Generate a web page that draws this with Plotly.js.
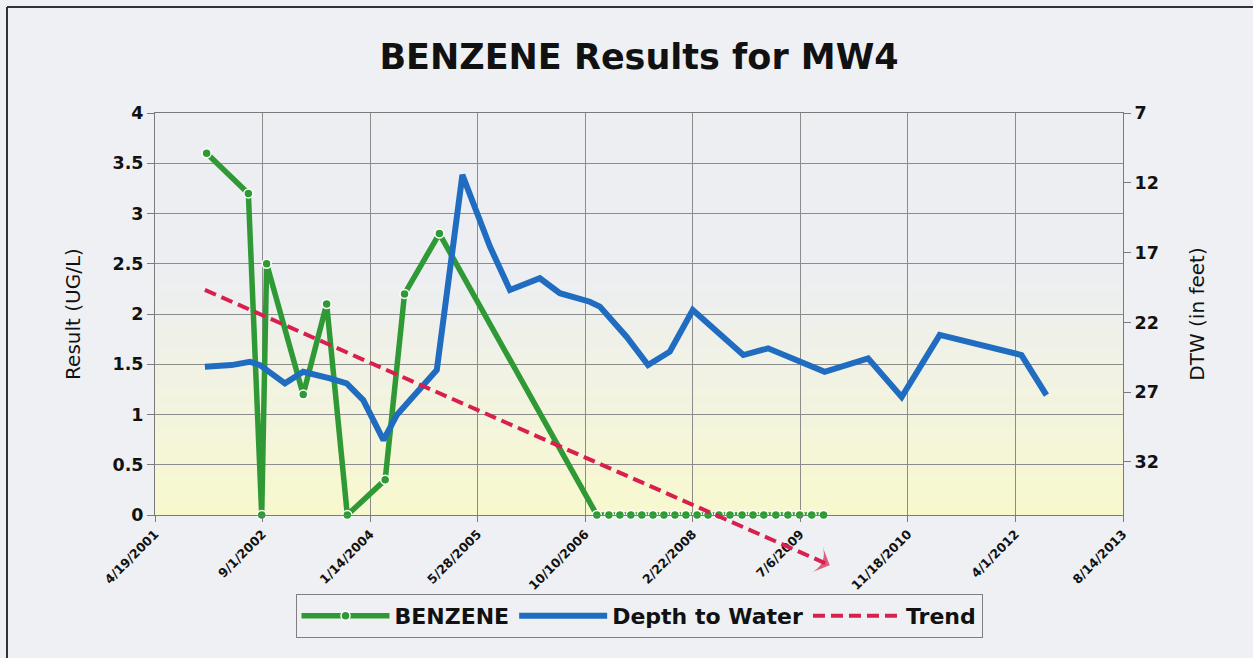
<!DOCTYPE html>
<html>
<head>
<meta charset="utf-8">
<script src="https://cdn.plot.ly/plotly-3.0.1.min.js"></script>
<style>
html,body{margin:0;padding:0;background:#eef0f3;}
#chart{width:1253px;height:658px;}
</style>
</head>
<body>
<div id="chart"></div>
<script>
// ---------------- DATA ----------------
const BENZENE_DATES = [
  '2001-12-15','2002-06-27','2002-08-28','2002-09-20','2003-03-09','2003-06-26',
  '2003-09-30','2004-03-24','2004-06-22','2004-12-01',
  '2006-12-03','2007-01-28','2007-03-20','2007-05-10','2007-06-30','2007-08-21',
  '2007-10-11','2007-12-01','2008-01-21','2008-03-13','2008-05-03','2008-06-23',
  '2008-08-13','2008-10-08','2008-11-28','2009-01-17','2009-03-14','2009-05-09',
  '2009-07-03','2009-08-28','2009-10-22'
];
const BENZENE_VALUES = [
  3.6, 3.2, 0, 2.5, 1.2, 2.1,
  0, 0.35, 2.2, 2.8,
  0, 0, 0, 0, 0, 0,
  0, 0, 0, 0, 0, 0,
  0, 0, 0, 0, 0, 0,
  0, 0, 0
];
const DTW_DATES = [
  '2001-12-07','2002-04-10','2002-07-04','2002-08-20','2002-12-14','2003-03-09',
  '2003-07-11','2003-09-27','2003-12-13','2004-03-16','2004-05-17','2004-08-18',
  '2004-11-19','2005-03-18','2005-07-24','2005-10-25','2006-03-13','2006-06-14',
  '2006-10-31','2006-12-17','2007-04-20','2007-07-29','2007-11-07','2008-02-22',
  '2008-10-14','2009-02-06','2009-06-18','2009-10-27','2010-05-17','2010-10-20',
  '2011-04-15','2012-04-29','2012-08-23'
];
const DTW_VALUES = [
  25.18, 25.06, 24.82, 25.06, 26.37, 25.54,
  26.01, 26.37, 27.57, 30.44, 28.64, 27.09,
  25.41, 11.43, 16.57, 19.68, 18.84, 19.91,
  20.52, 20.87, 23.03, 25.06, 24.10, 21.11,
  24.34, 23.86, 24.70, 25.54, 24.58, 27.35,
  22.90, 24.34, 27.21
];
const TREND_DATES = ['2001-12-07', '2009-11-20'];
const TREND_VALUES = [2.24, -0.5];

const X_RANGE = ['2001-04-19', '2013-08-14'];
const X_TICK_DAYS = 500;
const Y_RANGE = [0, 4];
const Y2_RANGE = [35.8, 7];

// ---------------- LAYOUT ----------------
const FONT = 'DejaVu Sans, Arial, sans-serif';
const W = 1253, H = 658;
const M = {l: 155, r: 130, t: 113, b: 83, pad: 0, autoexpand: false};
const plotW = W - M.l - M.r;
const plotH = H - M.t - M.b;
const MAIN_BOTTOM_PX = 515;
const domLo = (H - M.b - MAIN_BOTTOM_PX) / plotH;
const y3Low = Y_RANGE[0] - (Y_RANGE[1] - Y_RANGE[0]) * domLo / (1 - domLo);

const px2x = px => (px - M.l) / plotW;
const py2y = py => (H - M.b - py) / plotH;

const GREEN = '#2f9a35';
const BLUE = '#1f6cc0';
const RED = '#d91f4e';
const GRID = '#8c8c8c';

const traces = [
  {
    name: 'BENZENE', x: BENZENE_DATES, y: BENZENE_VALUES,
    type: 'scatter', mode: 'lines+markers', xaxis: 'x', yaxis: 'y',
    line: {color: GREEN, width: 5.5},
    marker: {size: 9, color: GREEN, line: {color: '#ffffff', width: 1.5}},
    cliponaxis: false
  },
  {
    name: 'Depth to Water', x: DTW_DATES, y: DTW_VALUES,
    type: 'scatter', mode: 'lines', xaxis: 'x', yaxis: 'y2',
    line: {color: BLUE, width: 6}
  },
  {
    name: 'Trend', x: TREND_DATES, y: TREND_VALUES,
    type: 'scatter', mode: 'lines', xaxis: 'x2', yaxis: 'y3',
    line: {color: RED, width: 4, dash: '12px,6px'}
  },
  {
    name: 'Trend arrow', x: TREND_DATES, y: TREND_VALUES, showlegend: false,
    type: 'scatter', mode: 'markers', xaxis: 'x2', yaxis: 'y3', cliponaxis: false,
    marker: {size: [0, 20], symbol: 'arrow-wide', angleref: 'previous', color: RED,
             line: {width: 0}}
  }
];

// gradient background for plot area
const shapes = [];
const N = 50;
for (let i = 0; i < N; i++) {
  const t = 1 - (i + 0.5) / N; // 0 top, 1 bottom
  let c;
  const top = [236, 238, 242], bot = [248, 248, 206];
  if (t < 0.4) c = top;
  else {
    const f = (t - 0.4) / 0.6;
    c = top.map((v, k) => Math.round(v + (bot[k] - v) * f));
  }
  shapes.push({
    type: 'rect', xref: 'x domain', yref: 'y domain', layer: 'below',
    x0: 0, x1: 1, y0: i / N - 0.002, y1: (i + 1) / N + 0.002,
    fillcolor: `rgb(${c[0]},${c[1]},${c[2]})`, line: {width: 0}
  });
}
// outer frame (top & left edges visible in the scan)
shapes.push({type: 'line', xref: 'paper', yref: 'paper', x0: px2x(7), x1: px2x(1262), y0: py2y(7), y1: py2y(7), line: {color: '#333', width: 2}});
shapes.push({type: 'line', xref: 'paper', yref: 'paper', x0: px2x(7), x1: px2x(7), y0: py2y(7), y1: py2y(670), line: {color: '#333', width: 2}});

const tickFontBig = {family: FONT, size: 17.5, color: '#111', weight: 'bold'};

const layout = {
  width: W, height: H,
  margin: M,
  paper_bgcolor: '#eef0f3',
  plot_bgcolor: 'rgba(0,0,0,0)',
  showlegend: true,
  title: {
    text: 'BENZENE Results for MW4',
    font: {family: FONT, size: 35, color: '#111', weight: 'bold'},
    x: 0.5, xref: 'paper', xanchor: 'center',
    y: 1 - 57 / H, yref: 'container', yanchor: 'middle'
  },
  xaxis: {
    type: 'date', range: X_RANGE, domain: [0, 1], anchor: 'y',
    tick0: X_RANGE[0], dtick: X_TICK_DAYS * 86400000, tickformat: '%-m/%-d/%Y',
    tickangle: -45, tickfont: {family: FONT, size: 12.5, color: '#111', weight: 'bold'},
    showgrid: true, gridcolor: GRID, gridwidth: 1,
    showline: true, linecolor: '#7a7a7a', linewidth: 1, mirror: true,
    ticks: 'outside', ticklen: 6, tickcolor: '#7a7a7a',
    zeroline: false, automargin: false
  },
  yaxis: {
    range: Y_RANGE, domain: [domLo, 1], anchor: 'x',
    tick0: 0, dtick: 0.5, tickfont: tickFontBig,
    showgrid: true, gridcolor: GRID, gridwidth: 1,
    showline: true, linecolor: '#7a7a7a', linewidth: 1,
    ticks: 'outside', ticklen: 7, tickcolor: '#7a7a7a',
    zeroline: false, automargin: false,
    title: {text: 'Result (UG/L)', font: {family: FONT, size: 20, color: '#111'}, standoff: 26}
  },
  yaxis2: {
    range: Y2_RANGE, overlaying: 'y', side: 'right', anchor: 'x',
    tick0: 7, dtick: 5, tickfont: tickFontBig,
    showgrid: false, showline: true, linecolor: '#7a7a7a', linewidth: 1,
    ticks: 'outside', ticklen: 7, tickcolor: '#7a7a7a',
    zeroline: false, automargin: false,
    title: {text: 'DTW (in feet)', font: {family: FONT, size: 20, color: '#111'}, standoff: 32}
  },
  xaxis2: {type: 'date', range: X_RANGE, domain: [0, 1], anchor: 'y3', visible: false, fixedrange: true},
  yaxis3: {range: [y3Low, Y_RANGE[1]], domain: [0, 1], anchor: 'x2', visible: false, fixedrange: true},
  legend: {
    orientation: 'h', x: 0.5, xanchor: 'center', y: py2y(594), yanchor: 'top',
    bordercolor: '#7f7f7f', borderwidth: 1, bgcolor: 'rgba(0,0,0,0)',
    font: {family: FONT, size: 22, color: '#111', weight: 'bold'},
    itemwidth: 88, valign: 'middle'
  },
  shapes: shapes
};

Plotly.newPlot('chart', traces, layout, {displayModeBar: false, staticPlot: true});
</script>
</body>
</html>
